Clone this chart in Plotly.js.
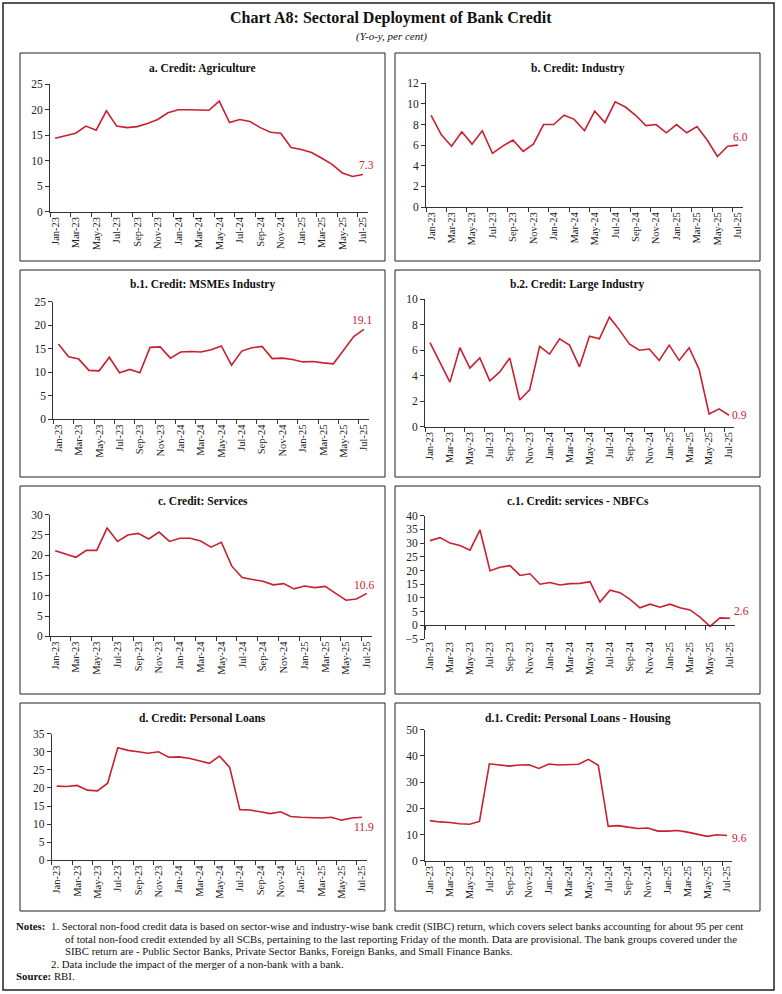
<!DOCTYPE html>
<html><head><meta charset="utf-8">
<script src="https://cdn.plot.ly/plotly-3.0.1.min.js"></script>
<style>body{margin:0;background:#fff}#chart{width:782px;height:994px}</style>
</head><body><div id="chart"></div>
<script>
const months = ['Jan-23','Feb-23','Mar-23','Apr-23','May-23','Jun-23','Jul-23','Aug-23','Sep-23','Oct-23','Nov-23','Dec-23',
  'Jan-24','Feb-24','Mar-24','Apr-24','May-24','Jun-24','Jul-24','Aug-24','Sep-24','Oct-24','Nov-24','Dec-24',
  'Jan-25','Feb-25','Mar-25','Apr-25','May-25','Jun-25','Jul-25'];
const agriculture = [14.4,14.9,15.4,16.8,16.0,19.8,16.8,16.5,16.7,17.3,18.1,19.4,20.0,20.0,20.0,19.9,21.7,17.5,18.1,17.7,16.5,15.6,15.4,12.6,12.2,11.6,10.5,9.3,7.6,6.9,7.3];
const industry = [8.9,7.0,5.9,7.3,6.1,7.4,5.2,5.9,6.5,5.4,6.1,8.0,8.0,8.9,8.5,7.4,9.3,8.2,10.2,9.7,8.9,7.9,8.0,7.2,8.0,7.2,7.8,6.5,4.9,5.9,6.0];
const msme = [16.0,13.3,12.8,10.4,10.3,13.2,9.9,10.6,9.9,15.3,15.4,13.0,14.3,14.4,14.3,14.8,15.6,11.5,14.5,15.2,15.5,12.9,13.0,12.7,12.2,12.3,12.0,11.8,14.7,17.6,19.1];
const largeIndustry = [6.6,5.0,3.5,6.2,4.6,5.4,3.6,4.3,5.4,2.1,2.9,6.3,5.7,6.9,6.4,4.7,7.1,6.9,8.6,7.6,6.5,6.0,6.1,5.2,6.4,5.2,6.2,4.5,1.0,1.4,0.9];
const services = [21.1,20.3,19.5,21.2,21.2,26.7,23.4,25.0,25.4,24.0,25.7,23.4,24.2,24.2,23.5,22.0,23.2,17.3,14.5,14.0,13.6,12.7,13.0,11.7,12.4,12.0,12.3,10.6,8.9,9.2,10.6];
const nbfc = [30.9,32.0,30.0,29.1,27.4,34.8,19.9,21.2,21.8,18.2,18.8,15.0,15.6,14.7,15.2,15.3,15.9,8.5,12.8,11.9,9.5,6.4,7.7,6.6,7.7,6.4,5.6,3.0,-0.4,2.7,2.6];
const personal = [20.5,20.4,20.7,19.4,19.2,21.3,31.1,30.4,30.0,29.6,30.0,28.5,28.6,28.2,27.5,26.8,28.8,25.7,14.0,13.9,13.4,12.9,13.4,12.1,11.9,11.8,11.7,11.9,11.1,11.7,11.9];
const housing = [15.3,14.8,14.6,14.1,13.9,15.0,37.0,36.5,36.1,36.5,36.6,35.2,36.9,36.5,36.6,36.8,38.7,36.4,13.1,13.4,12.8,12.3,12.5,11.3,11.3,11.5,10.9,10.1,9.3,9.9,9.6];
const panelTitles = ['a. Credit: Agriculture','b. Credit: Industry','b.1. Credit: MSMEs Industry','b.2. Credit: Large Industry',
  'c. Credit: Services','c.1. Credit: services - NBFCs','d. Credit: Personal Loans','d.1. Credit: Personal Loans - Housing'];
const lastLabels = ['7.3','6.0','19.1','0.9','10.6','2.6','11.9','9.6'];
const yRanges = [[0,25],[0,12],[0,25],[0,10],[0,30],[-5,40],[0,35],[0,50]];
const yDticks = [5,2,5,2,5,5,5,10];
const series = [agriculture,industry,msme,largeIndustry,services,nbfc,personal,housing];

const W=782,H=994;
const fx=(a,b)=>[a/W,b/W];
const fy=(t,b)=>[1-b/H,1-t/H];
const RED='#C8202F';
const FONT='Liberation Serif, Times New Roman, serif';

// plot area pixel boxes [x0,x1,yTop,yBottom]
const plotBoxes = [
  [50,368,84.3,211.7],[426,743,83.3,207],
  [53.3,369,301.7,419.3],[425,734,299.3,426.7],
  [50,372,514.7,636.3],[425,735,515.7,639],
  [51.7,367,733.7,860.3],[425,732,729.7,860.7]
];
const rows=[[53,261],[270,477],[486,694],[703,911]];
const cols=[[20,385],[395,760]];
const labelShift=[[4,9],[3,8],[-2,9],[10,0],[-3,8],[11,7],[2,-10],[12,-2]];

const traces=[]; const layout={
  width:W,height:H,margin:{l:0,r:0,t:0,b:0},paper_bgcolor:'#fff',plot_bgcolor:'rgba(0,0,0,0)',
  showlegend:false,font:{family:FONT,color:'#222'},shapes:[],annotations:[]
};
for(let i=0;i<8;i++){
  const n=i+1, pb=plotBoxes[i];
  traces.push({x:months,y:series[i],type:'scatter',mode:'lines',line:{color:RED,width:1.6},
    xaxis:'x'+n,yaxis:'y'+n,hoverinfo:'x+y'});
  const xa={domain:fx(pb[0],pb[1]),anchor:'y'+n,type:'category',range:[-0.5,30.5],
    tickson:'boundaries',dtick:2,tickangle:-90,tickfont:{size:10.5,family:FONT,color:'#222'},
    ticks:'outside',ticklen:4,tickcolor:'#333',showline:true,linecolor:'#333',linewidth:1,
    showgrid:false,zeroline:false,fixedrange:true};
  const ya={domain:fy(pb[2],pb[3]),anchor:'x'+n,range:yRanges[i],dtick:yDticks[i],
    tickfont:{size:11.5,family:FONT,color:'#222'},ticks:'outside',ticklen:4,tickcolor:'#333',
    showline:true,linecolor:'#333',linewidth:1,showgrid:false,zeroline:false,fixedrange:true};
  if(i===5){
    xa.showline=false; xa.ticks='';
  }
  layout['xaxis'+n]=xa; layout['yaxis'+n]=ya;
  const r=rows[Math.floor(i/2)], c=cols[i%2];
  layout.shapes.push({type:'rect',xref:'paper',yref:'paper',x0:c[0]/W,x1:c[1]/W,y0:1-r[1]/H,y1:1-r[0]/H,
    line:{color:'#222',width:1}});
  layout.annotations.push({xref:'paper',yref:'paper',x:(c[0]+c[1])/2/W,y:1-(r[0]+15)/H,
    text:'<b>'+panelTitles[i]+'</b>',showarrow:false,xanchor:'center',yanchor:'middle',
    font:{size:11.5,family:FONT,color:'#111'}});
  layout.annotations.push({xref:'x'+n,yref:'y'+n,x:months[months.length-1],y:series[i][series[i].length-1],
    text:lastLabels[i],showarrow:false,xanchor:'center',yanchor:'middle',
    xshift:labelShift[i][0],yshift:labelShift[i][1],font:{size:11.5,family:FONT,color:RED}});
}
// zero-line axis for NBFC panel
const pb6=plotBoxes[5];
const zeroFrac = 1-(pb6[3]-(0-yRanges[5][0])/(yRanges[5][1]-yRanges[5][0])*(pb6[3]-pb6[2]))/H;
layout.xaxis9={overlaying:'x6',anchor:'free',position:zeroFrac,type:'category',range:[-0.5,30.5],
  tickson:'boundaries',dtick:2,showticklabels:false,ticks:'outside',ticklen:4,tickcolor:'#333',
  showline:true,linecolor:'#333',linewidth:1,showgrid:false,zeroline:false,fixedrange:true};
traces.push({x:months,y:nbfc,type:'scatter',mode:'lines',line:{color:'rgba(0,0,0,0)',width:0},
  xaxis:'x9',yaxis:'y6',hoverinfo:'skip'});

// outer border
layout.shapes.push({type:'rect',xref:'paper',yref:'paper',x0:3/W,x1:774/W,y0:1-990/H,y1:1-3/H,
  line:{color:'#222',width:1.5}});
// titles
layout.annotations.push({xref:'paper',yref:'paper',x:0.5,y:1-18/H,text:'<b>Chart A8: Sectoral Deployment of Bank Credit</b>',
  showarrow:false,xanchor:'center',yanchor:'middle',font:{size:16,family:FONT,color:'#111'}});
layout.annotations.push({xref:'paper',yref:'paper',x:0.5,y:1-36/H,text:'<i>(Y-o-y, per cent)</i>',
  showarrow:false,xanchor:'center',yanchor:'middle',font:{size:11,family:FONT,color:'#111'}});
// notes
const noteLines=[
  [14,926,'<b>Notes:</b>'],
  [49,926,'1. Sectoral non-food credit data is based on sector-wise and industry-wise bank credit (SIBC) return, which covers select banks accounting for about 95 per cent'],
  [63,938.5,'of total non-food credit extended by all SCBs, pertaining to the last reporting Friday of the month. Data are provisional. The bank groups covered under the'],
  [63,951,'SIBC return are - Public Sector Banks, Private Sector Banks, Foreign Banks, and Small Finance Banks.'],
  [49,963.5,'2. Data include the impact of the merger of a non-bank with a bank.'],
  [14,975.5,'<b>Source:</b> RBI.']
];
noteLines.forEach(l=>layout.annotations.push({xref:'paper',yref:'paper',x:l[0]/W,y:1-l[1]/H,text:l[2],
  showarrow:false,xanchor:'left',yanchor:'middle',font:{size:10.8,family:FONT,color:'#111'}}));

Plotly.newPlot('chart',traces,layout,{displayModeBar:false,staticPlot:true});
</script></body></html>
